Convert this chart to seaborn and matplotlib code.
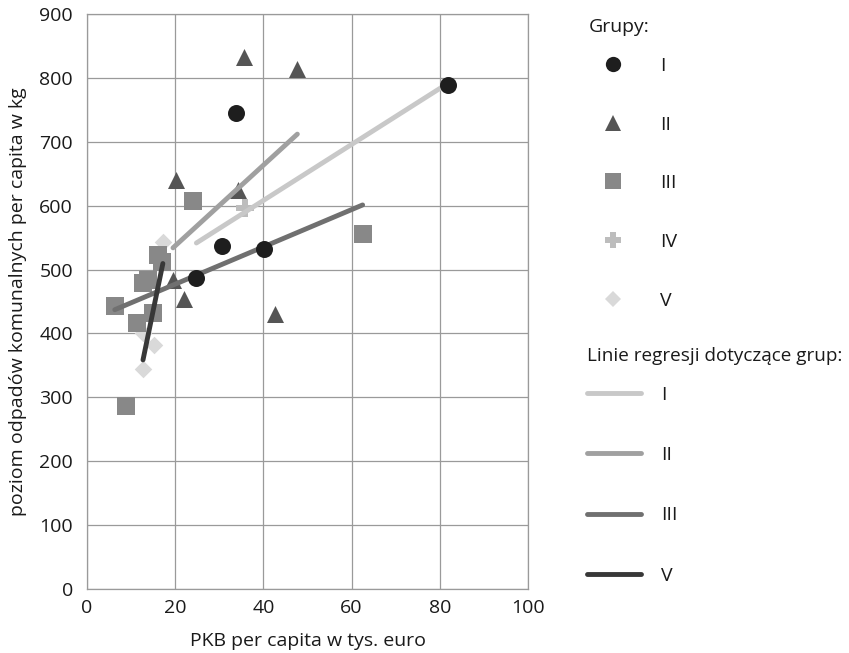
import matplotlib
matplotlib.use("Agg")
import matplotlib.pyplot as plt
import seaborn as sns
from matplotlib.lines import Line2D

# Dane (PKB per capita w tys. euro, odpady w kg)
gdp_I = [81.8, 33.9, 30.5, 24.8, 40.2]
waste_I = [789, 745, 537, 487, 532]

gdp_II = [35.5, 47.7, 20.2, 34.3, 42.7, 22.0, 19.5]
waste_II = [832, 814, 640, 624, 430, 454, 483]

gdp_III = [24.1, 62.5, 16.1, 17.0, 12.7, 13.9, 6.3, 15.0, 11.4, 8.9]
waste_III = [607, 555, 523, 512, 479, 483, 443, 432, 416, 286]

gdp_IV = [35.9]
waste_IV = [596]

gdp_V = [17.2, 12.7, 15.2, 12.7]
waste_V = [543, 400, 382, 344]

group_labels = ["I", "II", "III", "IV", "V"]
line_labels = ["I", "II", "III", "V"]

sns.set_theme(style="white")
plt.rcParams["font.family"] = ["Open Sans", "DejaVu Sans"]

txt = "#1a1a1a"
fs = 14

fig = plt.figure(figsize=(8.49, 6.53), dpi=100)
ax = fig.add_axes([87 / 849, 1 - 589 / 653, 441 / 849, 575 / 653])

# kolory / markery
mk = {
    "I": dict(marker="o", color="#1e1e1e", s=150),
    "II": dict(marker="^", color="#555555", s=150),
    "III": dict(marker="s", color="#888888", s=150),
    "IV": dict(marker="P", color="#bdbdbd", s=150),
    "V": dict(marker="D", color="#d9d9d9", s=80),
}
line_col = {"I": "#c8c8c8", "II": "#a0a0a0", "III": "#707070", "V": "#383838"}

data = {
    "I": (gdp_I, waste_I),
    "II": (gdp_II, waste_II),
    "III": (gdp_III, waste_III),
    "IV": (gdp_IV, waste_IV),
    "V": (gdp_V, waste_V),
}

for g in ["V", "IV", "III", "II"]:
    x, y = data[g]
    sns.scatterplot(x=x, y=y, ax=ax, linewidth=0, zorder=2, **mk[g])

# linie regresji
for g in line_labels:
    x, y = data[g]
    sns.regplot(x=x, y=y, ax=ax, scatter=False, ci=None, truncate=True,
                line_kws=dict(color=line_col[g], lw=3.5, solid_capstyle="round", zorder=3))

x, y = data["I"]
sns.scatterplot(x=x, y=y, ax=ax, linewidth=0, zorder=4, **mk["I"])

ax.set_xlim(0, 100)
ax.set_ylim(0, 900)
ax.set_xticks(range(0, 101, 20))
ax.set_yticks(range(0, 901, 100))
ax.grid(True, color="#9a9a9a", lw=0.9)
ax.set_axisbelow(True)
for sp in ax.spines.values():
    sp.set_color("#9a9a9a")
    sp.set_linewidth(0.9)
ax.tick_params(length=0, labelsize=fs, colors=txt)
ax.tick_params(axis="y", pad=10)
ax.tick_params(axis="x", pad=7)
ax.set_xlabel("PKB per capita w tys. euro", fontsize=fs, color=txt, labelpad=11)
ax.set_ylabel("poziom odpadów komunalnych per capita w kg", fontsize=fs, color=txt, labelpad=9)

# legendy (tytuły jako zwykły tekst)
fig.text(589 / 849, 1 - 27 / 653, "Grupy:", fontsize=fs, color=txt, va="center", ha="left")
h1 = [Line2D([], [], ls="none", marker=mk[g]["marker"], color=mk[g]["color"],
             markersize=11 if g != "V" else 8, markeredgewidth=0) for g in group_labels]
fig.legend(h1, group_labels, loc="upper left", bbox_to_anchor=(600 / 849, 1 - 57 / 653),
           frameon=False, fontsize=fs, labelspacing=2.09, handletextpad=1.75,
           borderaxespad=0, borderpad=0, handlelength=1.34, labelcolor=txt)

fig.text(587 / 849, 1 - 356 / 653, "Linie regresji dotyczące grup:", fontsize=13.6, color=txt,
         va="center", ha="left")
h2 = [Line2D([], [], color=line_col[g], lw=3.5, solid_capstyle="round") for g in line_labels]
fig.legend(h2, line_labels, loc="upper left", bbox_to_anchor=(587 / 849, 1 - 386 / 653),
           frameon=False, fontsize=fs, labelspacing=2.17, handletextpad=1.0,
           borderaxespad=0, borderpad=0, handlelength=2.8, labelcolor=txt)

fig.savefig("out.png", dpi=100)
